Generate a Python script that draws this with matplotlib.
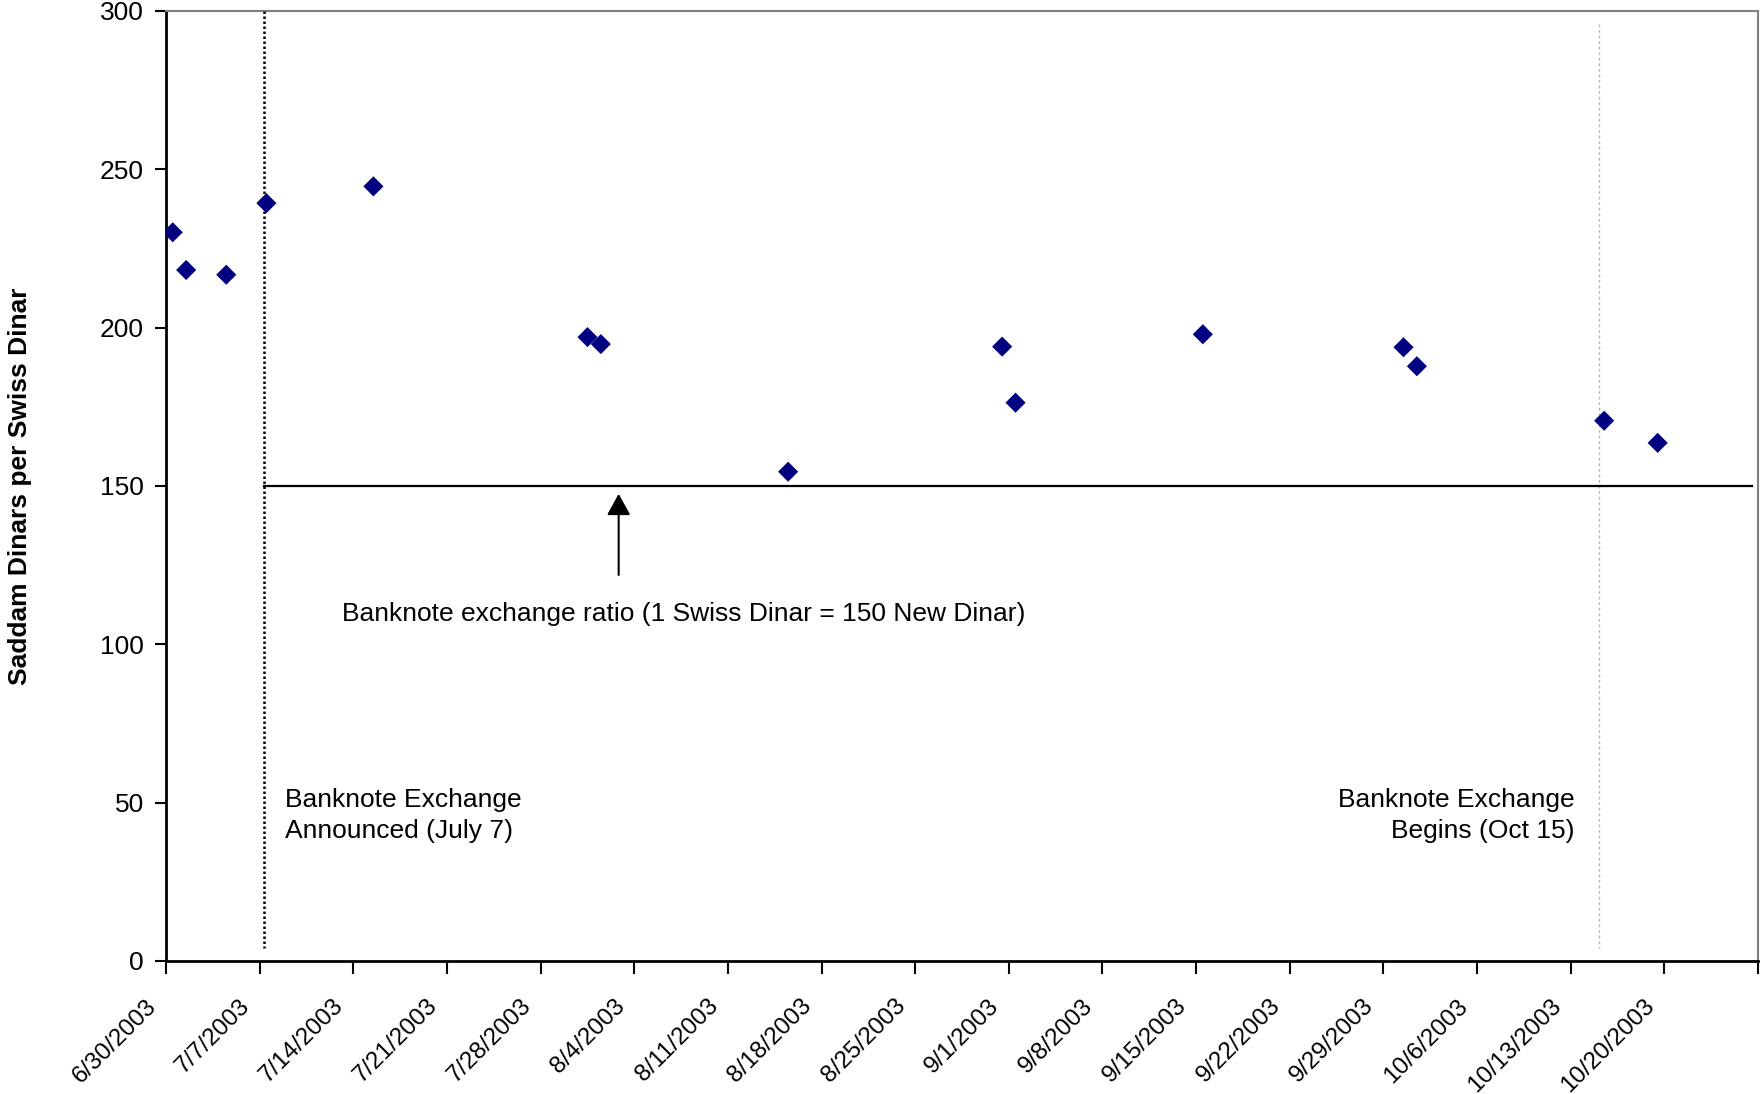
import matplotlib.pyplot as plt
import matplotlib.transforms as mtransforms
import pandas as pd

plt.rcParams["font.family"] = ["Liberation Sans", "DejaVu Sans"]

# Parallel market quotes (Saddam dinars per Swiss dinar)
quote_dates = [
    "2003-06-30", "2003-07-01", "2003-07-04", "2003-07-07", "2003-07-15",
    "2003-07-31", "2003-08-01", "2003-08-15", "2003-08-31", "2003-09-01",
    "2003-09-15", "2003-09-30", "2003-10-01", "2003-10-15", "2003-10-19",
]
quote_values = [
    230.1, 218.2, 216.7, 239.3, 244.6,
    197.0, 194.8, 154.5, 194.0, 176.3,
    197.9, 193.8, 187.8, 170.6, 163.6,
]

official_ratio = 150
announce_date = "2003-07-07"
begin_date = "2003-10-15"
week_ticks = pd.date_range("2003-06-30", "2003-10-27", freq="7D")
tick_labels = [f"{d.month}/{d.day}/{d.year}" for d in week_ticks[:-1]] + [""]


def main() -> None:
    fig = plt.figure(figsize=(17.61, 10.94), dpi=100)
    ax = fig.add_axes([0.0943, 0.1216, 0.904, 0.8684])

    # points sit in the middle of their day, like a date axis in a spreadsheet
    x = pd.to_datetime(quote_dates) + pd.Timedelta(hours=12)
    ax.scatter(x, quote_values, marker="D", s=105, color="#000080",
               edgecolors="none", zorder=5)

    announce = pd.Timestamp(announce_date) + pd.Timedelta(hours=8)
    begin = pd.Timestamp(begin_date) + pd.Timedelta(hours=3)

    ax.plot([announce, announce], [300, 4], color="black",
            linestyle=(0, (1.0, 1.0)), linewidth=1.8, zorder=3)
    ax.plot([begin, begin], [296, 4], color="#b5b5b5",
            linestyle=(0, (2, 2)), linewidth=1.0, zorder=3)
    ax.plot([announce, pd.Timestamp("2003-10-27") - pd.Timedelta(hours=10)],
            [official_ratio, official_ratio], color="black", linewidth=1.6,
            zorder=4)

    arrow_x = pd.Timestamp("2003-08-02 20:00")
    ax.annotate("", xy=(arrow_x, 147.5), xytext=(arrow_x, 121.9),
                arrowprops=dict(arrowstyle="-|>,head_width=0.72,head_length=1.3",
                                color="black", linewidth=1.5,
                                shrinkA=0, shrinkB=0))

    ax.text(pd.Timestamp("2003-07-13 04:30"), 109.5,
            f"Banknote exchange ratio (1 Swiss Dinar = {official_ratio} New Dinar)",
            fontsize=19, ha="left", va="center")
    ax.text(pd.Timestamp("2003-07-08 22:00"), 46.0,
            "Banknote Exchange\nAnnounced (July 7)",
            fontsize=19, ha="left", va="center", linespacing=1.35)
    ax.text(pd.Timestamp("2003-10-13 07:00"), 46.0,
            "Banknote Exchange\nBegins (Oct 15)",
            fontsize=19, ha="right", va="center", multialignment="right",
            linespacing=1.35)

    ax.set_xlim(pd.Timestamp("2003-06-30"), pd.Timestamp("2003-10-27"))
    ax.set_ylim(0, 300)
    ax.set_yticks(range(0, 301, 50))
    ax.set_xticks(week_ticks)
    ax.set_xticklabels(tick_labels, rotation=45, ha="right", va="center",
                       rotation_mode="anchor")
    ax.tick_params(axis="x", length=9, width=1.5, pad=21, labelsize=17.5)
    ax.tick_params(axis="y", length=8, width=1.5, pad=8, labelsize=19)

    shift = mtransforms.ScaledTranslation(-0.13, 0, fig.dpi_scale_trans)
    for label in ax.get_xticklabels():
        label.set_transform(label.get_transform() + shift)

    ax.set_ylabel("Saddam Dinars per Swiss Dinar", fontsize=19,
                  fontweight="bold")
    ax.yaxis.set_label_coords(-0.084, 0.5)

    for side in ("left", "bottom"):
        ax.spines[side].set_color("black")
        ax.spines[side].set_linewidth(2)
    for side in ("top", "right"):
        ax.spines[side].set_color("#808080")
        ax.spines[side].set_linewidth(1.5)

    fig.savefig("out.png", dpi=100, facecolor="white")


if __name__ == "__main__":
    main()
